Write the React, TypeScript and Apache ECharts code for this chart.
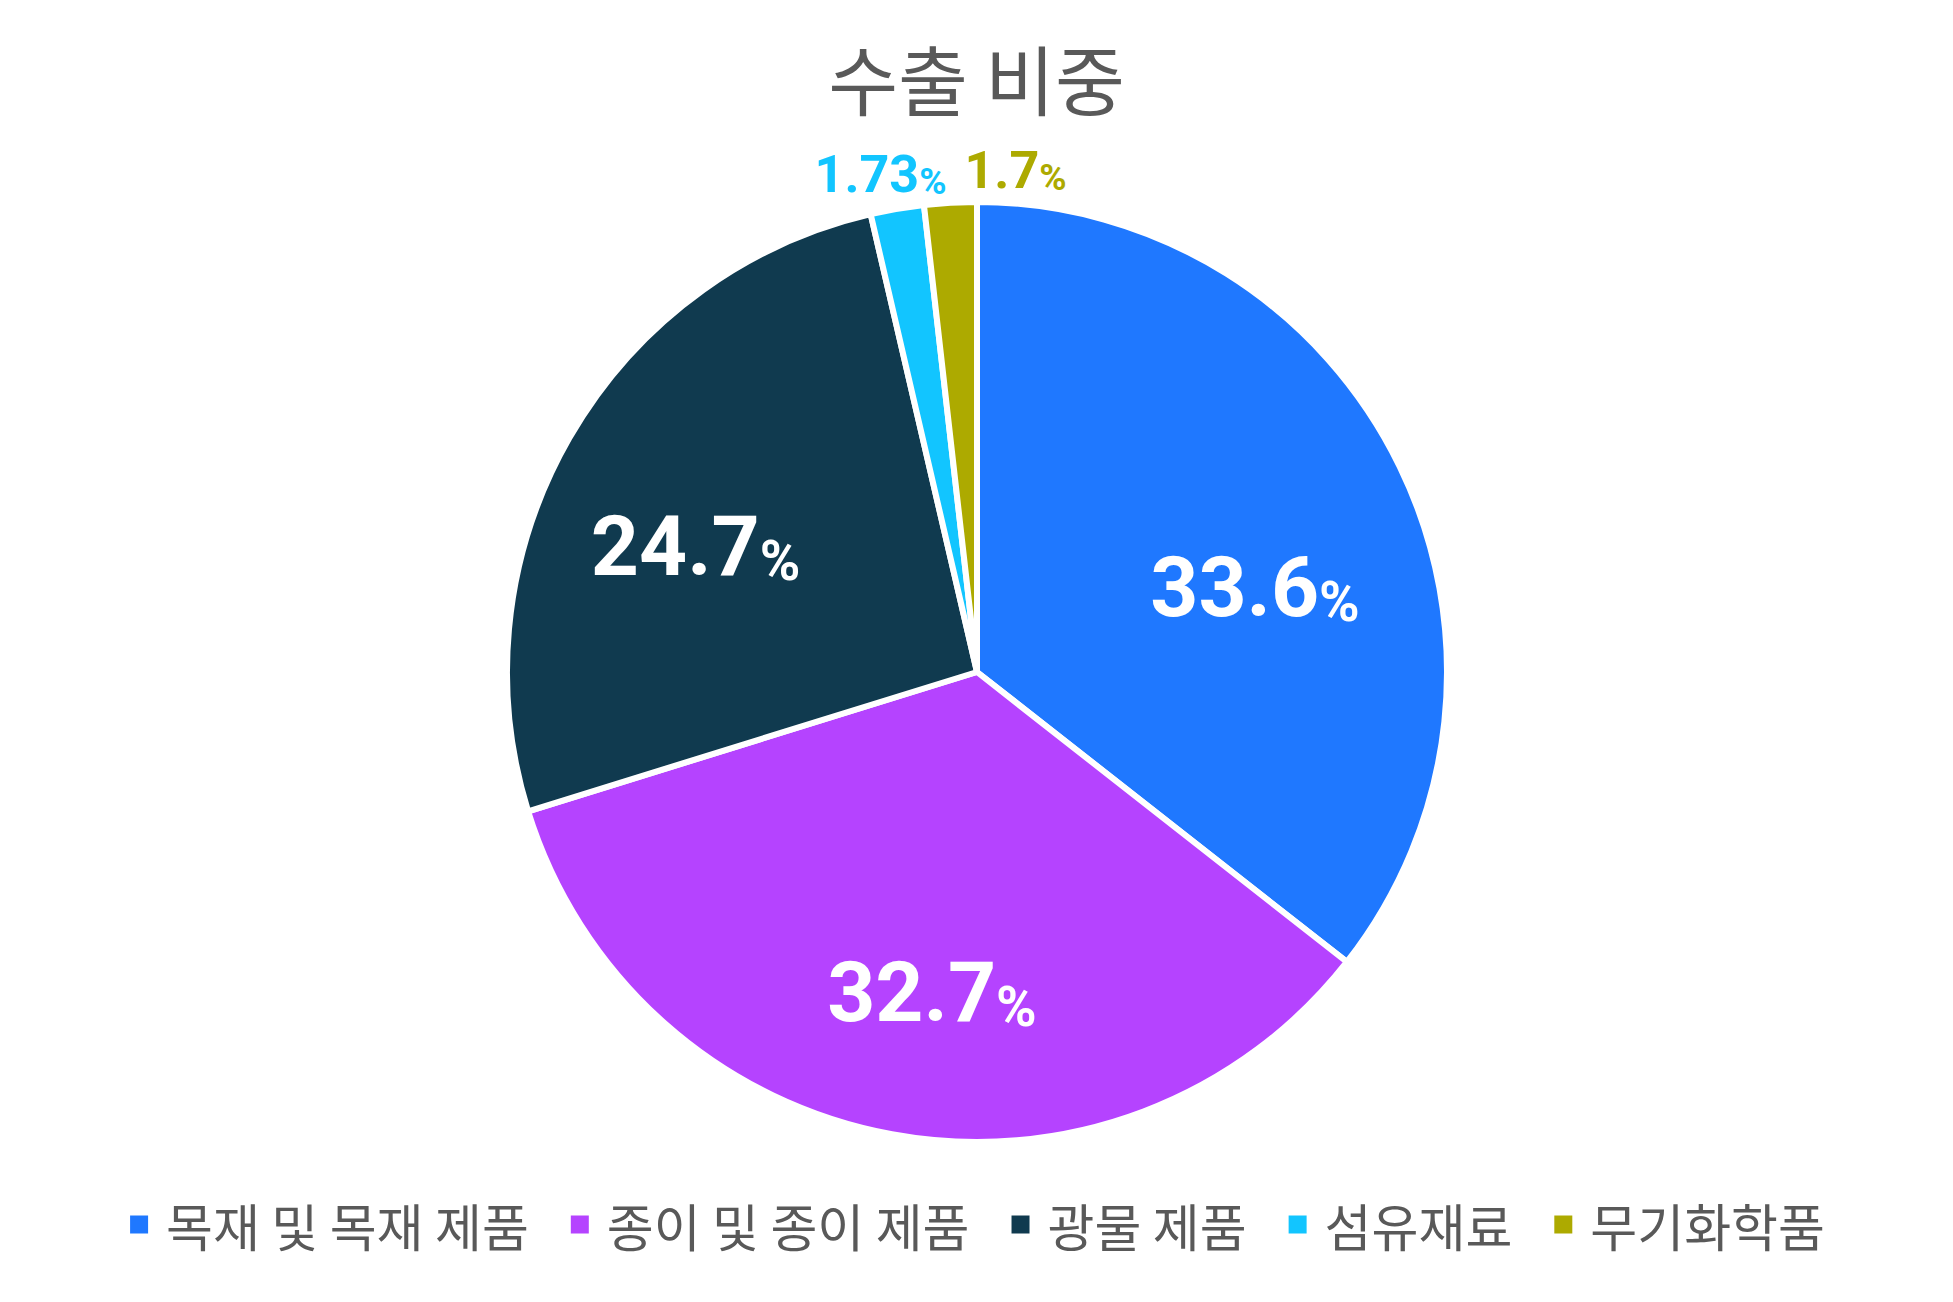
import React, { useEffect, useRef } from "react";
import * as echarts from "echarts";

const titleText = "수출 비중";
const categories = ["목재 및 목재 제품", "종이 및 종이 제품", "광물 제품", "섬유재료", "무기화학품"];
const values = [33.6, 32.7, 24.7, 1.73, 1.7];
const colors = ["#1F78FF", "#B543FF", "#103A4F", "#12C5FF", "#ADAA00"];
const labelOffsets = [
  [64, 20],
  [-2, 86],
  [-75, -7],
  [-56, -263],
  [52, -264],
];
const smallLabel = [false, false, false, true, true];

export default function App() {
  const ref = useRef<HTMLDivElement>(null);
  useEffect(() => {
    if (!ref.current) return;
    const chart = echarts.init(ref.current, undefined, { renderer: "svg" });
    const rich: Record<string, any> = {};
    colors.forEach((c, i) => {
      const small = smallLabel[i];
      const col = small ? c : "#FFFFFF";
      rich["n" + i] = {
        fontFamily: "Roboto",
        fontWeight: "bold",
        fontSize: small ? 52 : 84,
        lineHeight: small ? 52 : 84,
        color: col,
        verticalAlign: "bottom",
      };
      rich["p" + i] = {
        fontFamily: "Roboto",
        fontWeight: "bold",
        fontSize: small ? 37 : 55,
        lineHeight: small ? 42 : 64,
        color: col,
        verticalAlign: "bottom",
      };
    });
    chart.setOption({
      animation: false,
      backgroundColor: "#FFFFFF",
      title: {
        text: titleText,
        left: "center",
        top: 34,
        textStyle: {
          fontFamily: "Noto Sans CJK KR",
          fontSize: 76,
          fontWeight: "normal",
          color: "#595959",
        },
      },
      legend: {
        data: categories,
        left: "center",
        top: 1194,
        icon: "rect",
        itemWidth: 20,
        itemHeight: 20,
        itemGap: 40,
        textStyle: {
          fontFamily: "Noto Sans CJK KR",
          fontSize: 51,
          color: "#595959",
          padding: [0, 0, 0, 12],
        },
      },
      series: [
        {
          type: "pie",
          center: [977, 672],
          radius: 470,
          startAngle: 90,
          clockwise: true,
          avoidLabelOverlap: false,
          emphasis: { disabled: true },
          itemStyle: { borderColor: "#FFFFFF", borderWidth: 6 },
          labelLine: { show: false },
          label: {
            show: true,
            position: "inside",
            formatter: (p: any) => `{n${p.dataIndex}|${p.value}}{p${p.dataIndex}|%}`,
            rich,
          },
          data: categories.map((name, i) => ({
            name,
            value: values[i],
            itemStyle: { color: colors[i] },
            label: { offset: labelOffsets[i] },
          })),
        },
      ],
    });
    return () => chart.dispose();
  }, []);
  return (
    <div
      ref={ref}
      style={{ position: "absolute", left: 0, top: 0, width: 1953, height: 1302, background: "#fff" }}
    />
  );
}
